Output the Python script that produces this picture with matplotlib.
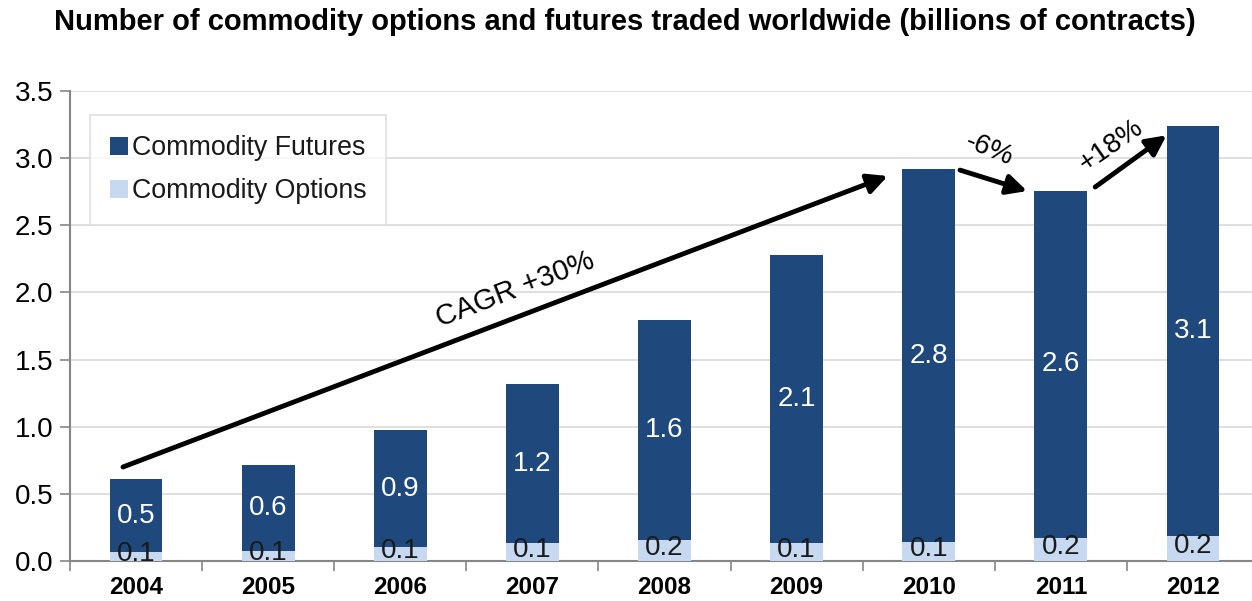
import matplotlib.pyplot as plt
import numpy as np

plt.rcParams['font.family'] = ['Liberation Sans', 'DejaVu Sans']

years = ['2004', '2005', '2006', '2007', '2008', '2009', '2010', '2011', '2012']
options = [0.069, 0.074, 0.106, 0.131, 0.156, 0.131, 0.143, 0.173, 0.186]
futures = [0.538, 0.644, 0.867, 1.184, 1.640, 2.148, 2.774, 2.583, 3.054]

dark = '#1F497D'
light = '#C6D9F1'

fig = plt.figure(figsize=(12.52, 6.01), dpi=100)
ax = fig.add_axes([70 / 1252, 40 / 601, 1189 / 1252, 470 / 601])

x = np.arange(len(years))
ax.bar(x, options, 0.40, color=light, label='Commodity Options', zorder=3)
ax.bar(x, futures, 0.40, bottom=options, color=dark, label='Commodity Futures', zorder=3)

for i in range(len(years)):
    ax.text(x[i], options[i] + futures[i] / 2, '%.1f' % futures[i], color='white',
            ha='center', va='center', fontsize=20, zorder=4)
    ax.text(x[i], options[i] / 2 + 0.02, '%.1f' % options[i], color='#1a1a1a',
            ha='center', va='center', fontsize=20, zorder=4)

ax.set_xlim(-0.5, len(years) - 0.5)
ax.set_ylim(0, 3.5)
ax.set_yticks(np.arange(0, 3.51, 0.5))
ax.set_yticklabels(['%.1f' % v for v in np.arange(0, 3.51, 0.5)], fontsize=20)
ax.set_xticks(x)
ax.set_xticklabels(years, fontsize=17.5, fontweight='bold')
ax.set_xticks(np.arange(-0.5, len(years), 1), minor=True)
ax.tick_params(axis='x', which='major', length=0, pad=11)
ax.tick_params(axis='x', which='minor', length=7, color='#868686', width=1.2)
ax.tick_params(axis='y', length=7, color='#868686', width=1.2, pad=5)

ax.grid(axis='y', color='#d9d9d9', lw=1.2, zorder=0)
for s in ['top', 'right']:
    ax.spines[s].set_visible(False)
for s in ['left', 'bottom']:
    ax.spines[s].set_color('#868686')
    ax.spines[s].set_linewidth(1.5)

handles, labels = ax.get_legend_handles_labels()
leg = ax.legend(handles[::-1], labels[::-1], loc='upper left', bbox_to_anchor=(0.0168, 0.949),
                borderaxespad=0, fontsize=19.3, frameon=True, fancybox=False,
                handlelength=0.65, handleheight=0.65, handletextpad=0.15,
                labelspacing=0.65, borderpad=0.75)
leg.get_frame().set_edgecolor('#d9d9d9')
leg.get_frame().set_linewidth(1.2)
for t in leg.get_texts():
    t.set_color('#1a1a1a')

arrow = dict(arrowstyle='-|>', lw=3.5, color='black', mutation_scale=30, shrinkA=0, shrinkB=0)
ax.annotate('', xy=(5.69, 2.867), xytext=(-0.099, 0.70), arrowprops=arrow, zorder=5)
ax.text(2.87, 2.02, 'CAGR +30%', fontsize=21, rotation=21, ha='center', va='center')
ax.annotate('', xy=(6.745, 2.755), xytext=(6.237, 2.911), arrowprops=arrow, zorder=5)
ax.text(6.46, 3.06, '-6%', fontsize=20, rotation=-22, ha='center', va='center')
ax.annotate('', xy=(7.80, 3.17), xytext=(7.26, 2.785), arrowprops=arrow, zorder=5)
ax.text(7.38, 3.09, '+18%', fontsize=20, rotation=35, ha='center', va='center')

fig.text(0.4992, 1 - 22 / 601,
         'Number of commodity options and futures traded worldwide (billions of contracts)',
         ha='center', va='center', fontsize=21, fontweight='bold')

fig.savefig('out.png', dpi=100)
